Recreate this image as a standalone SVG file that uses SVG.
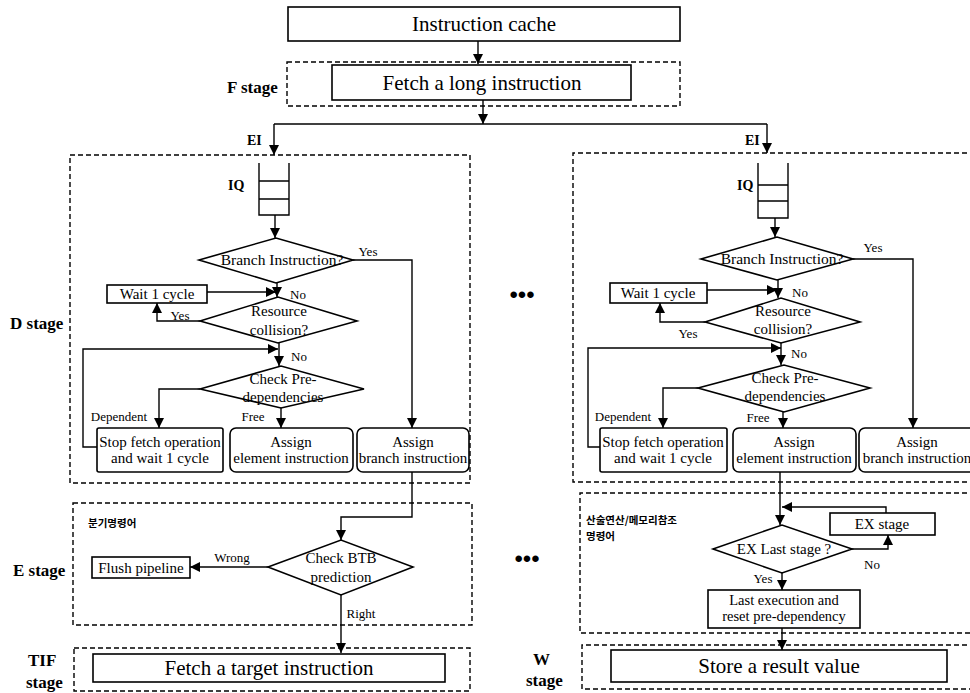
<svg xmlns="http://www.w3.org/2000/svg" width="970" height="693" viewBox="0 0 970 693">
<style>
.bx{fill:#fff;stroke:#000;stroke-width:1.6}
.ds{fill:none;stroke:#000;stroke-width:1.4;stroke-dasharray:5 3}
.ln{fill:none;stroke:#000;stroke-width:1.4}
.ar{fill:none;stroke:#000;stroke-width:1.4;marker-end:url(#ah)}
.t{font-family:"Liberation Serif",serif;fill:#000;text-anchor:middle}
.big{font-size:21px}
.md{font-size:15px}
.sm{font-size:13px}
.lb{font-family:"Liberation Serif",serif;font-weight:bold;font-size:17px;fill:#000}
.lbs{font-family:"Liberation Serif",serif;font-weight:bold;font-size:14px;fill:#000}
.ko{font-family:"Noto Sans CJK KR",sans-serif;font-weight:bold;font-size:10.5px;fill:#000}
</style>
<defs>
<marker id="ah" markerUnits="userSpaceOnUse" markerWidth="11" markerHeight="10" refX="10" refY="5" orient="auto">
<path d="M0,0 L10,5 L0,10 z" fill="#000"/>
</marker>
</defs>
<rect width="970" height="693" fill="#fff"/>

<!-- stage frames and labels -->
<g id="stages">
<rect class="ds" x="287" y="62" width="393" height="44"/>
<text class="lb" x="227" y="93">F stage</text>
<rect class="ds" x="70" y="155" width="400" height="328"/>
<path class="ds" d="M975 153 H573 V482 H975"/>
<text class="lb" x="10" y="329">D stage</text>
<rect class="ds" x="73" y="503" width="399" height="122"/>
<path class="ds" d="M975 493 H580 V633 H975"/>
<text class="lb" x="13" y="576">E stage</text>
<rect class="ds" x="74" y="648" width="396" height="43"/>
<text class="lb" x="28" y="666">TIF</text>
<text class="lb" x="26" y="688">stage</text>
<path class="ds" d="M975 645 H582 V689 H975"/>
<text class="lb" x="533" y="665">W</text>
<text class="lb" x="526" y="686">stage</text>
<text x="522" y="303" style="font-family:'Liberation Sans',sans-serif;font-size:24px;text-anchor:middle">•••</text>
<text x="527" y="567" style="font-family:'Liberation Sans',sans-serif;font-size:24px;text-anchor:middle">•••</text>
<text class="ko" x="88" y="527">분기명령어</text>
<text class="ko" x="586" y="524">산술연산/메모리참조</text>
<text class="ko" x="586" y="540">명령어</text>
</g>

<g id="n-cache"><rect class="bx" x="288" y="7" width="392" height="34"/><text class="t big" x="484" y="31">Instruction cache</text></g>
<g id="n-fetch"><rect class="bx" x="332" y="65" width="299" height="35"/><text class="t big" x="482" y="90">Fetch a long instruction</text></g>

<!-- left D stage -->
<g id="n-iq-l"><path class="ln" d="M259 163 V215 H289 V163 M259 181 H289 M259 199 H289"/><text class="lbs" x="228" y="190">IQ</text></g>
<g id="n-branch-l"><polygon class="bx" points="199,260 276,238 353,260 276,283"/><text class="t md" x="282" y="265" style="font-size:15.5px">Branch Instruction?</text></g>
<g id="n-wait-l"><rect class="bx" x="107" y="285" width="100" height="18"/><text class="t md" x="157" y="299">Wait 1 cycle</text></g>
<g id="n-res-l"><polygon class="bx" points="200,321 278,297 357,321 278,343"/><text class="t md" x="279" y="316">Resource</text><text class="t md" x="279" y="335">collision?</text></g>
<g id="n-check-l"><polygon class="bx" points="200,389 281,366 364,389 281,408"/><text class="t md" x="283" y="384">Check Pre-</text><text class="t md" x="283" y="402">dependencies</text></g>
<g id="n-stop-l"><rect class="bx" x="97" y="428" width="126" height="44" rx="2"/><text class="t md" x="160" y="447">Stop fetch operation</text><text class="t md" x="160" y="463">and wait 1 cycle</text></g>
<g id="n-elem-l"><rect class="bx" x="230" y="428" width="123" height="44" rx="6"/><text class="t md" x="291" y="447">Assign</text><text class="t md" x="291" y="463">element instruction</text></g>
<g id="n-br-l"><rect class="bx" x="357" y="428" width="112" height="44" rx="6"/><text class="t md" x="413" y="447">Assign</text><text class="t md" x="413" y="463">branch instruction</text></g>

<!-- left E stage -->
<g id="n-btb"><polygon class="bx" points="268,567 341,540 413,567 341,595"/><text class="t md" x="341" y="563">Check BTB</text><text class="t md" x="341" y="582">prediction</text></g>
<g id="n-flush"><rect class="bx" x="92" y="557" width="98" height="21"/><text class="t md" x="141" y="573">Flush pipeline</text></g>
<g id="n-target"><rect class="bx" x="93" y="654" width="352" height="28"/><text class="t big" x="269" y="675">Fetch a target instruction</text></g>

<!-- right D stage -->
<g id="n-iq-r"><path class="ln" d="M758 163 V218 H788 V163 M758 185 H788 M758 201 H788"/><text class="lbs" x="737" y="190">IQ</text></g>
<g id="n-branch-r"><polygon class="bx" points="701,259 777,237 853,259 777,280"/><text class="t md" x="782" y="264" style="font-size:15.5px">Branch Instruction?</text></g>
<g id="n-wait-r"><rect class="bx" x="610" y="283" width="97" height="20"/><text class="t md" x="658" y="298">Wait 1 cycle</text></g>
<g id="n-res-r"><polygon class="bx" points="705,322 781,298 860,322 781,343"/><text class="t md" x="783" y="316">Resource</text><text class="t md" x="783" y="334">collision?</text></g>
<g id="n-check-r"><polygon class="bx" points="698,388 784,365 870,388 784,412"/><text class="t md" x="785" y="383">Check Pre-</text><text class="t md" x="785" y="401">dependencies</text></g>
<g id="n-stop-r"><rect class="bx" x="600" y="428" width="127" height="44" rx="2"/><text class="t md" x="663" y="447">Stop fetch operation</text><text class="t md" x="663" y="463">and wait 1 cycle</text></g>
<g id="n-elem-r"><rect class="bx" x="733" y="428" width="123" height="44" rx="6"/><text class="t md" x="794" y="447">Assign</text><text class="t md" x="794" y="463">element instruction</text></g>
<g id="n-br-r"><rect class="bx" x="859" y="428" width="125" height="44" rx="6"/><text class="t md" x="917" y="447">Assign</text><text class="t md" x="917" y="463">branch instruction</text></g>

<!-- right E stage -->
<g id="n-exlast"><polygon class="bx" points="713,549 782,525 852,549 782,573"/><text class="t md" x="784" y="554">EX Last stage ?</text></g>
<g id="n-exstage"><rect class="bx" x="830" y="513" width="105" height="22"/><text class="t md" x="882" y="529">EX stage</text></g>
<g id="n-last"><rect class="bx" x="708" y="590" width="152" height="38"/><text class="t md" x="784" y="605" style="font-size:14.5px">Last execution and</text><text class="t md" x="784" y="621" style="font-size:14.5px">reset pre-dependency</text></g>
<g id="n-store"><rect class="bx" x="611" y="650" width="336" height="32"/><text class="t big" x="779" y="673">Store a result value</text></g>

<!-- connectors -->
<g id="connectors">
<path class="ar" d="M478 41 V64"/>
<path class="ar" d="M483 100 V124"/>
<path class="ln" d="M274 124 H767"/>
<path class="ar" d="M274 124 V155"/>
<path class="ar" d="M767 124 V153"/>
<text class="lbs" x="247" y="145">EI</text>
<text class="lbs" x="745" y="145">EI</text>

<!-- left D -->
<path class="ar" d="M275 215 V238"/>
<path class="ar" d="M353 260 H412 V428"/>
<text class="t sm" x="368" y="256">Yes</text>
<path class="ar" d="M207 292 H276"/>
<path class="ar" d="M277 283 V297"/>
<text class="t sm" x="298" y="299">No</text>
<path class="ar" d="M200 321 H157 V303"/>
<text class="t sm" x="180" y="320">Yes</text>
<path class="ar" d="M97 447 H83 V349 H278"/>
<path class="ar" d="M279 343 V366"/>
<text class="t sm" x="299" y="361">No</text>
<path class="ar" d="M200 389 H159 V428"/>
<text class="t sm" x="119" y="421">Dependent</text>
<path class="ar" d="M281 408 V428"/>
<text class="t sm" x="253" y="421">Free</text>

<!-- left E -->
<path class="ar" d="M412 472 V517 H341 V540"/>
<path class="ar" d="M268 567 H190"/>
<text class="t sm" x="232" y="562">Wrong</text>
<path class="ar" d="M341 595 V653"/>
<text class="t sm" x="361" y="618">Right</text>

<!-- right D -->
<path class="ar" d="M775 218 V237"/>
<path class="ar" d="M853 259 H913 V428"/>
<text class="t sm" x="873" y="252">Yes</text>
<path class="ar" d="M707 290 H777"/>
<path class="ar" d="M778 280 V298"/>
<text class="t sm" x="800" y="297">No</text>
<path class="ar" d="M705 322 H660 V303"/>
<text class="t sm" x="688" y="338">Yes</text>
<path class="ar" d="M600 447 H588 V348 H781"/>
<path class="ar" d="M781 343 V365"/>
<text class="t sm" x="799" y="358">No</text>
<path class="ar" d="M698 388 H663 V428"/>
<text class="t sm" x="623" y="421">Dependent</text>
<path class="ar" d="M783 412 V428"/>
<text class="t sm" x="758" y="422">Free</text>

<!-- right E / W -->
<path class="ar" d="M780 472 V525"/>
<path class="ar" d="M886 513 V507 H782"/>
<path class="ar" d="M852 549 H888 V535"/>
<text class="t sm" x="872" y="569">No</text>
<path class="ar" d="M782 573 V590"/>
<text class="t sm" x="763" y="583">Yes</text>
<path class="ar" d="M782 628 V650"/>
</g>
</svg>
